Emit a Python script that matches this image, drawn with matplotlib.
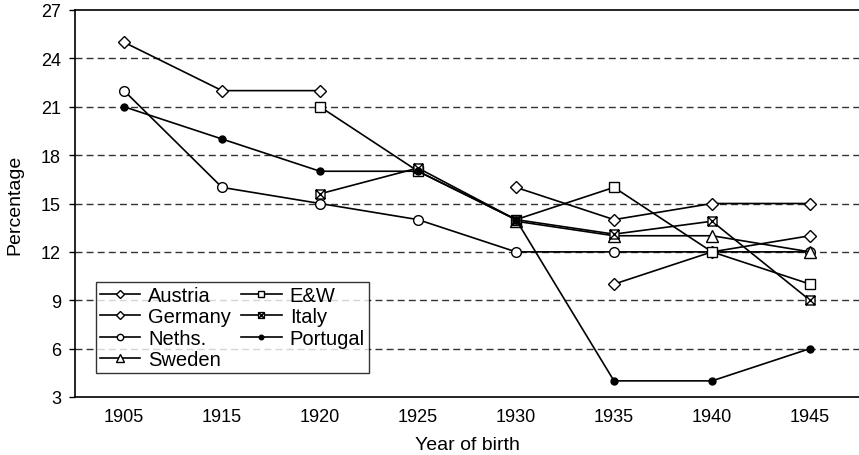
import numpy as np
import matplotlib
matplotlib.use("Agg")
import matplotlib.pyplot as plt
from matplotlib.path import Path

plt.rcParams['font.family'] = ['Liberation Sans', 'DejaVu Sans']

years = ["1905", "1915", "1920", "1925", "1930", "1935", "1940", "1945"]
nan = np.nan
austria = [nan, nan, nan, nan, nan, 10, 12, 13]
germany = [25, 22, 22, nan, 16, 14, 15, 15]
neths = [22, 16, 15, 14, 12, 12, 12, 12]
sweden = [nan, nan, nan, nan, 13.9, 13, 13, 12]
ew = [nan, nan, 21, 17, 14, 16, 12, 10]
italy = [nan, nan, 15.6, 17.2, 14, 13.1, 13.9, 9]
portugal = [21, 19, 17, 17, 14, 4, 4, 6]
yticks = [3, 6, 9, 12, 15, 18, 21, 24, 27]

boxx = Path([(-1, -1), (1, -1), (1, 1), (-1, 1), (-1, -1),
             (-1, -1), (1, 1), (-1, 1), (1, -1)],
            [Path.MOVETO, Path.LINETO, Path.LINETO, Path.LINETO, Path.CLOSEPOLY,
             Path.MOVETO, Path.LINETO, Path.MOVETO, Path.LINETO])

fig = plt.figure(figsize=(8.59, 4.56), dpi=100)
ax = fig.add_axes([75/859, 1-398/456, 784/859, 387/456])
x = np.arange(len(years))

def draw(vals, label, marker, ms, mfc='white'):
    ax.plot(x, vals, color='black', lw=1.2, marker=marker, ms=ms,
            mfc=mfc, mec='black', mew=1.0, label=label, zorder=3)

draw(austria, "Austria", 'D', 6)
draw(germany, "Germany", 'D', 6)
draw(neths, "Neths.", 'o', 7)
draw(sweden, "Sweden", '^', 8)
draw(ew, "E&W", 's', 7)
draw(italy, "Italy", boxx, 6.5)
draw(portugal, "Portugal", 'o', 5, mfc='black')

ax.set_xlim(-0.5, 7.5)
ax.set_ylim(3, 27)
ax.set_yticks(yticks)
ax.set_xticks(x)
ax.set_xticklabels(years)
ax.tick_params(axis='x', length=0, pad=8, labelsize=13)
ax.tick_params(axis='y', length=4, width=1, direction='out', pad=6, labelsize=13)
for yv in yticks[1:-1]:
    ax.axhline(yv, color='#333333', lw=1.0, ls=(0, (5, 3)), zorder=1)
ax.spines['right'].set_visible(False)
for s in ['left', 'top', 'bottom']:
    ax.spines[s].set_linewidth(1.2)
ax.set_xlabel("Year of birth", fontsize=14)
ax.xaxis.set_label_coords(0.5, -47/387, transform=ax.transAxes)
ax.xaxis.label.set_va('center')
ax.set_ylabel("Percentage", fontsize=14)
ax.yaxis.label.set_va('center')
ax.yaxis.set_label_coords(-60/784, 0.5)

leg = ax.legend(ncol=2, loc='lower left', bbox_to_anchor=(21/784, 24/387),
                fontsize=14.5, markerscale=0.65, handlelength=2.0,
                handletextpad=0.4, columnspacing=0.5, labelspacing=0.12,
                borderpad=0.2, frameon=True, fancybox=False, borderaxespad=0)
leg.get_frame().set_edgecolor('black')
leg.get_frame().set_linewidth(1.0)

fig.savefig("out.png", dpi=100)
